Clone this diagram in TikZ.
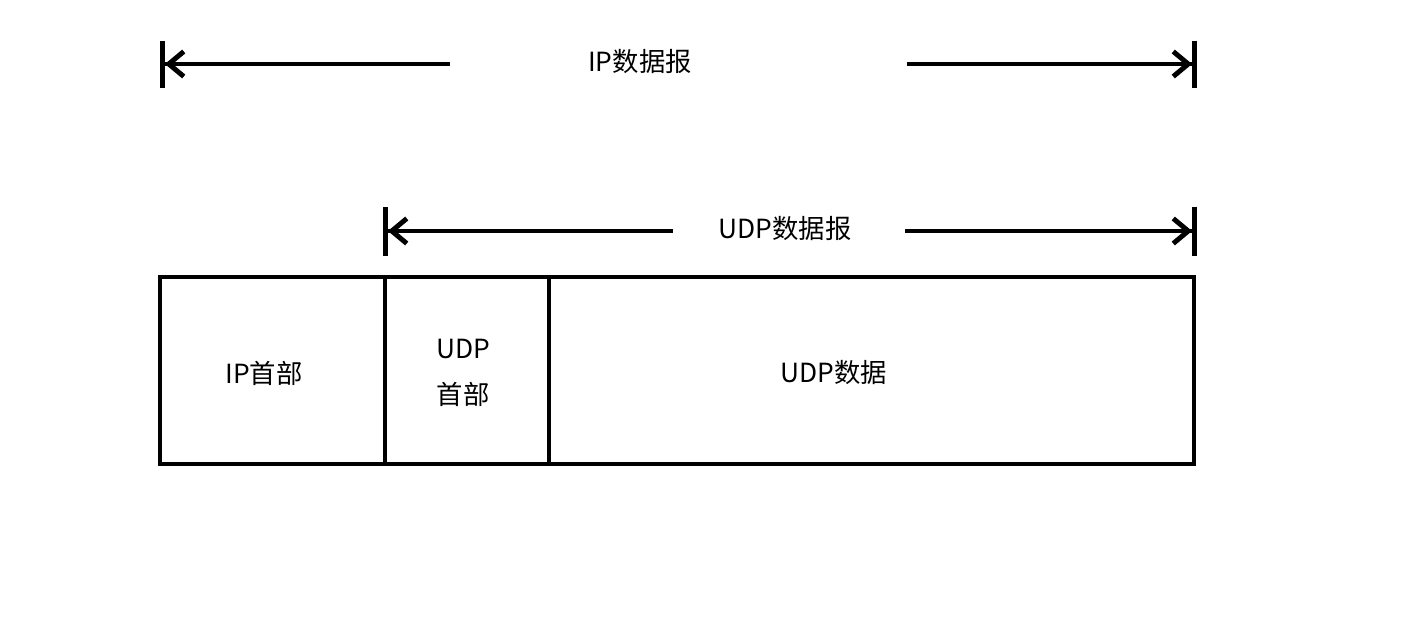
\documentclass[tikz,border=0pt]{standalone}
\usepackage{fontspec}
\setmainfont{Noto Sans CJK SC}
\usetikzlibrary{arrows.meta}

\begin{document}
\begin{tikzpicture}[x=0.02cm,y=-0.02cm,line width=2.8pt]
	\tikzset{
		startdim/.style={{Bar[width=#1]Straight Barb[length=0.3cm,width=0.5cm]}-},
		enddim/.style={-{Straight Barb[length=0.3cm,width=0.5cm]Bar[width=#1]}},
		lbl/.style={font=\fontsize{15}{26}\selectfont,inner sep=0pt,align=center}
	}
	\useasboundingbox (0,0) rectangle (1409,626);
	%% IP datagram ------
	\coordinate (ipL) at (160,64);
	\coordinate (ipLg) at (450,64);
	\coordinate (ipRg) at (907,64);
	\coordinate (ipR) at (1197,64);
	\node[lbl] (ipdg) at (640,62) {IP数据报};
	\draw[startdim=0.94cm] (ipL) -- (ipLg);
	\draw[enddim=0.94cm] (ipRg) -- (ipR);
	%% UDP datagram -----
	\coordinate (udpL) at (383,231);
	\coordinate (udpLg) at (673,231);
	\coordinate (udpRg) at (905,231);
	\coordinate (udpR) at (1197,231);
	\node[lbl] (udpdg) at (785,229) {UDP数据报};
	\draw[startdim=0.98cm] (udpL) -- (udpLg);
	\draw[enddim=0.98cm] (udpRg) -- (udpR);
	%% Fields -----------
	\draw (160,277) rectangle (1194,464);
	\draw (385,277) -- (385,464);
	\draw (549,277) -- (549,464);
	\node[lbl] (iphdr) at (264,373) {IP首部};
	\node[lbl] (udphdr) at (463,373) {UDP\\首部};
	\node[lbl] (udpdata) at (834,373) {UDP数据};
\end{tikzpicture}
\end{document}
